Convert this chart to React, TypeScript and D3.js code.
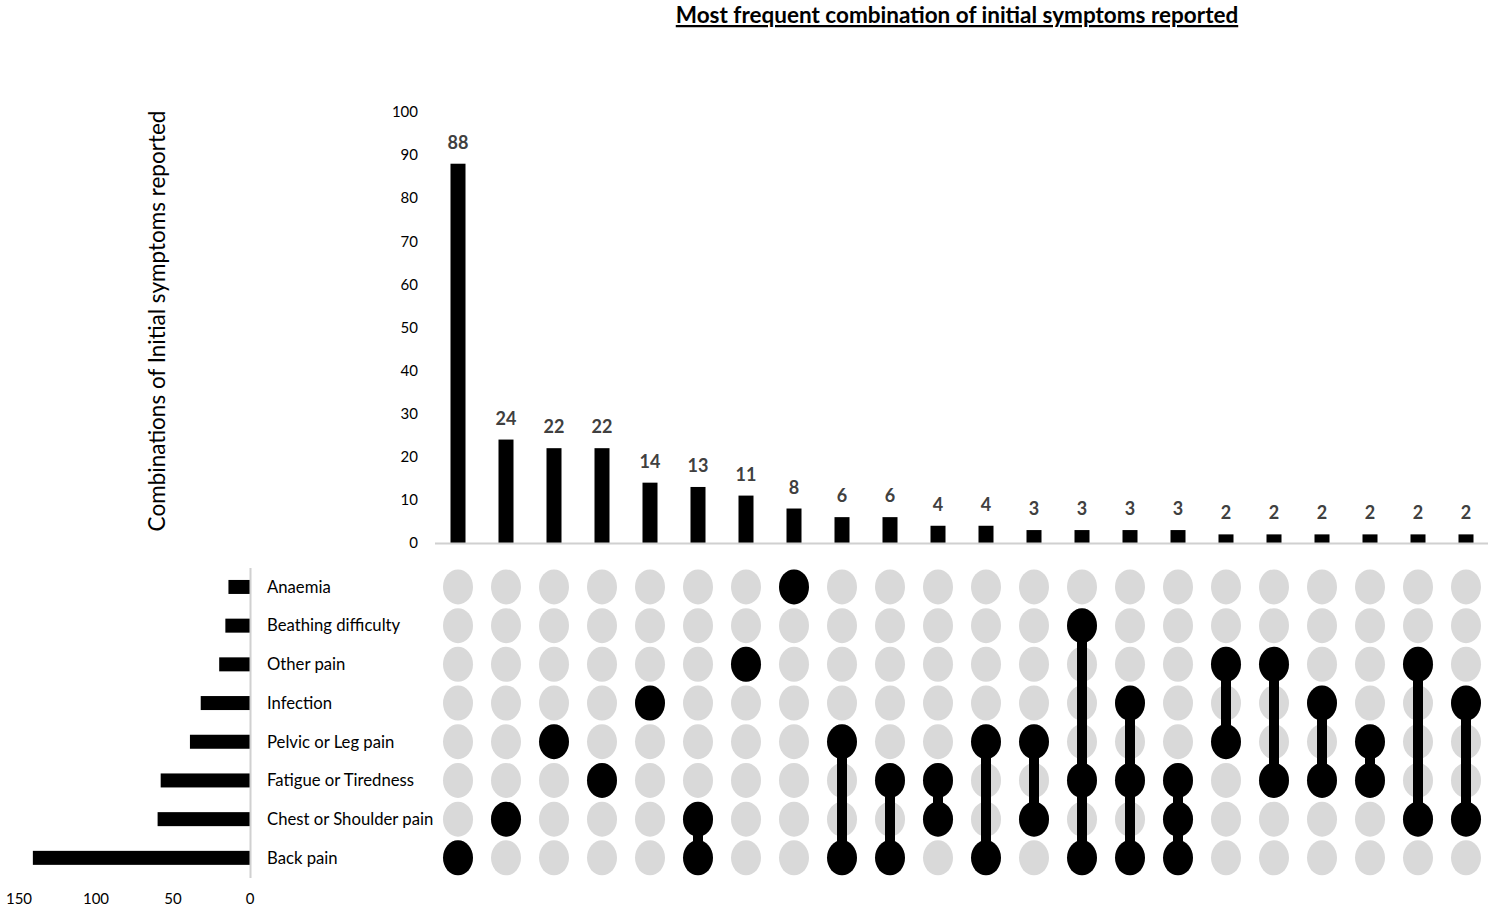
import React from "react";
import * as d3 from "d3";

const symptoms = [
  "Anaemia",
  "Beathing difficulty",
  "Other pain",
  "Infection",
  "Pelvic or Leg pain",
  "Fatigue or Tiredness",
  "Chest or Shoulder pain",
  "Back pain",
];

const symptomTotals = [14, 16, 20, 32, 39, 58, 60, 141];

const comboCounts = [88, 24, 22, 22, 14, 13, 11, 8, 6, 6, 4, 4, 3, 3, 3, 3, 2, 2, 2, 2, 2, 2];

const comboSets: string[][] = [
  ["Back pain"],
  ["Chest or Shoulder pain"],
  ["Pelvic or Leg pain"],
  ["Fatigue or Tiredness"],
  ["Infection"],
  ["Chest or Shoulder pain", "Back pain"],
  ["Other pain"],
  ["Anaemia"],
  ["Pelvic or Leg pain", "Back pain"],
  ["Fatigue or Tiredness", "Back pain"],
  ["Fatigue or Tiredness", "Chest or Shoulder pain"],
  ["Pelvic or Leg pain", "Back pain"],
  ["Pelvic or Leg pain", "Chest or Shoulder pain"],
  ["Beathing difficulty", "Fatigue or Tiredness", "Back pain"],
  ["Infection", "Fatigue or Tiredness", "Back pain"],
  ["Fatigue or Tiredness", "Chest or Shoulder pain", "Back pain"],
  ["Other pain", "Pelvic or Leg pain"],
  ["Other pain", "Fatigue or Tiredness"],
  ["Infection", "Fatigue or Tiredness"],
  ["Pelvic or Leg pain", "Fatigue or Tiredness"],
  ["Other pain", "Chest or Shoulder pain"],
  ["Infection", "Chest or Shoulder pain"],
];

const topTicks = [0, 10, 20, 30, 40, 50, 60, 70, 80, 90, 100];
const leftTicks = [0, 50, 100, 150];

const W = 1495;
const H = 913;
const FONT = "Lato, 'Open Sans', sans-serif";

export default function App() {
  const idx = comboCounts.map((_, i) => i);
  const x = d3.scaleBand<number>().domain(idx).range([434, 1490]).padding(0);
  const y = d3.scaleLinear().domain([0, 100]).range([543, 112]);
  const row = d3.scaleBand<string>().domain(symptoms).range([567.6, 877.2]).padding(0);
  const lx = d3.scaleLinear().domain([0, 150]).range([250, 19]);

  const barW = 15;
  const cx = (i: number) => (x(i) as number) + x.bandwidth() / 2;
  const cy = (s: string) => (row(s) as number) + row.bandwidth() / 2;
  const rx = 15;
  const ry = 17.5;

  return (
    <svg
      width={W}
      height={H}
      style={{ position: "absolute", left: 0, top: 0, background: "#fff" }}
      fontFamily={FONT}
    >
      {/* Title */}
      <text
        x={957}
        y={23}
        textAnchor="middle"
        fontSize={22.5}
        fontWeight="bold"
        textDecoration="underline"
        fill="#000"
      >
        Most frequent combination of initial symptoms reported
      </text>

      {/* Y axis title */}
      <text
        transform={`translate(165, ${321}) rotate(-90)`}
        textAnchor="middle"
        fontSize={22.5}
        fill="#000"
      >
        Combinations of Initial symptoms reported
      </text>

      {/* Top y-axis tick labels */}
      {topTicks.map((t) => (
        <text key={t} x={418} y={y(t)} dy="0.35em" textAnchor="end" fontSize={15} fill="#000">
          {t}
        </text>
      ))}

      {/* Top bars */}
      {comboCounts.map((v, i) => (
        <g key={i}>
          <rect x={cx(i) - barW / 2} y={y(v)} width={barW} height={y(0) - y(v)} fill="#000" />
          <text
            x={cx(i)}
            y={y(v) - 15}
            textAnchor="middle"
            fontSize={18}
            fontWeight="bold"
            fill="#404040"
          >
            {v}
          </text>
        </g>
      ))}
      <line x1={435} x2={1488} y1={y(0) + 0.5} y2={y(0) + 0.5} stroke="#d0d0d0" strokeWidth={2} />

      {/* Left bars */}
      {symptoms.map((s, i) => (
        <rect
          key={s}
          x={lx(symptomTotals[i])}
          y={cy(s) - 7}
          width={lx(0) - lx(symptomTotals[i])}
          height={14}
          fill="#000"
        />
      ))}
      <line x1={250.5} x2={250.5} y1={568} y2={878} stroke="#d0d0d0" strokeWidth={2} />
      {leftTicks.map((t) => (
        <text key={t} x={lx(t)} y={899} dy="0.35em" textAnchor="middle" fontSize={15} fill="#000">
          {t}
        </text>
      ))}

      {/* Row labels */}
      {symptoms.map((s) => (
        <text key={s} x={267} y={cy(s)} dy="0.35em" fontSize={16.7} fill="#000">
          {s}
        </text>
      ))}

      {/* Matrix: gray dots */}
      {idx.map((i) =>
        symptoms.map((s) => (
          <ellipse key={`${i}-${s}`} cx={cx(i)} cy={cy(s)} rx={rx} ry={ry} fill="#d9d9d9" />
        ))
      )}
      {/* Connecting lines */}
      {comboSets.map((set, i) => {
        if (set.length < 2) return null;
        const ys = set.map(cy);
        return (
          <line
            key={`l${i}`}
            x1={cx(i)}
            x2={cx(i)}
            y1={d3.min(ys) as number}
            y2={d3.max(ys) as number}
            stroke="#000"
            strokeWidth={10}
          />
        );
      })}
      {/* Active dots */}
      {comboSets.map((set, i) =>
        set.map((s) => <ellipse key={`a${i}-${s}`} cx={cx(i)} cy={cy(s)} rx={rx} ry={ry} fill="#000" />)
      )}
    </svg>
  );
}
